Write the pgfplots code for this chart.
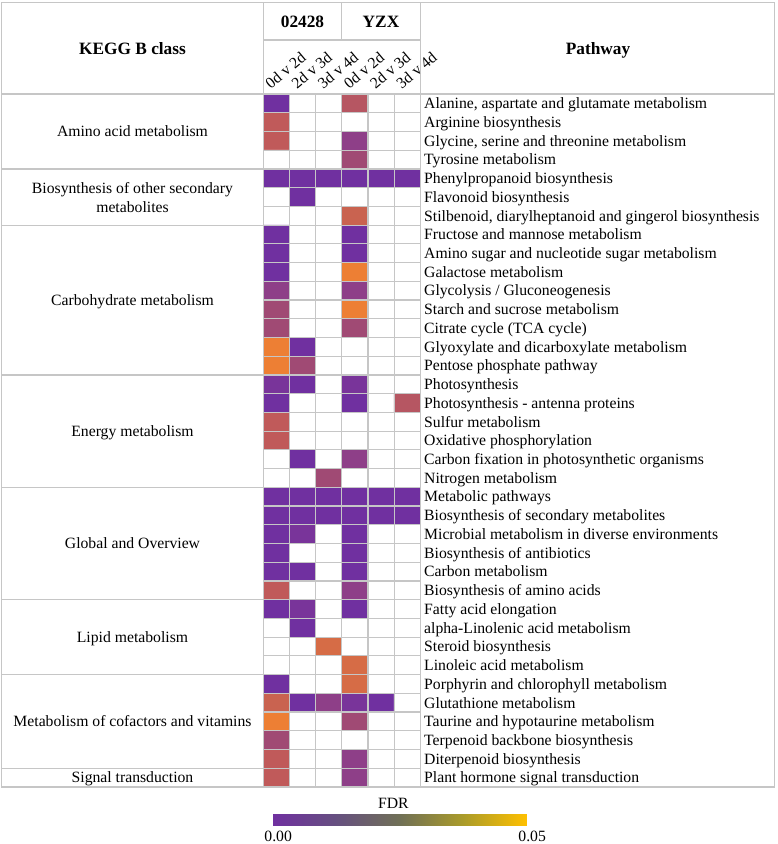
\documentclass[border=0pt]{standalone}
\usepackage{pgfplots}
\pgfplotsset{compat=1.18}
\usepackage{fontspec}
\setmainfont{Liberation Serif}
\definecolor{gridgray}{RGB}{198,198,198}
\newcommand{\fs}{\fontsize{15.7}{18.8}\selectfont}
\newcommand{\fb}{\fontsize{17.3}{20.5}\selectfont\bfseries}
\begin{document}
\begin{tikzpicture}
\useasboundingbox (0,0) rectangle (778pt,844pt);
% ---------------- canvas: frame, header, KEGG classes ----------------
\begin{axis}[at={(0pt,0pt)}, anchor=south west, scale only axis,
  width=778pt, height=844pt, xmin=0, xmax=778, ymin=0, ymax=844,
  y dir=reverse, hide axis, clip=false]
\draw[gridgray, line width=1.2pt] (axis cs:1.7,2.5) rectangle (axis cs:774.5,787);
\draw[gridgray, line width=1.2pt] (axis cs:263.3,2.5) -- (axis cs:263.3,787);
\draw[gridgray, line width=1.2pt] (axis cs:420.3,2.5) -- (axis cs:420.3,787);
\draw[gridgray, line width=1.2pt] (axis cs:341.8,2.5) -- (axis cs:341.8,40);
\draw[gridgray, line width=1.2pt] (axis cs:263.3,40) -- (axis cs:420.3,40);
\draw[gridgray, line width=1.2pt] (axis cs:1.7,94) -- (axis cs:774.5,94);
\draw[gridgray, line width=1.2pt]
  (axis cs:1.7,168.92) -- (axis cs:263.3,168.92)
  (axis cs:1.7,225.11) -- (axis cs:263.3,225.11)
  (axis cs:1.7,374.95) -- (axis cs:263.3,374.95)
  (axis cs:1.7,487.32) -- (axis cs:263.3,487.32)
  (axis cs:1.7,599.70) -- (axis cs:263.3,599.70)
  (axis cs:1.7,674.62) -- (axis cs:263.3,674.62)
  (axis cs:1.7,768.27) -- (axis cs:263.3,768.27);
% header texts
\node[font=\fb, anchor=base, yshift=-5.8pt] at (axis cs:132.5,48.3) {KEGG B class};
\node[font=\fb, anchor=base, yshift=-5.8pt] at (axis cs:598,48.3) {Pathway};
\node[font=\fb, anchor=base, yshift=-5.8pt] at (axis cs:302.5,21.5) {02428};
\node[font=\fb, anchor=base, yshift=-5.8pt] at (axis cs:381,21.5) {YZX};
% KEGG B classes
\node[font=\fs, anchor=base, yshift=-5.3pt] at (axis cs:132.5,131.46) {Amino acid metabolism};
\node[font=\fs, anchor=base, yshift=-5.3pt] at (axis cs:132.5,188.3) {Biosynthesis of other secondary};
\node[font=\fs, anchor=base, yshift=-5.3pt] at (axis cs:132.5,206.7) {metabolites};
\node[font=\fs, anchor=base, yshift=-5.3pt] at (axis cs:132.5,300.03) {Carbohydrate metabolism};
\node[font=\fs, anchor=base, yshift=-5.3pt] at (axis cs:132.5,431.14) {Energy metabolism};
\node[font=\fs, anchor=base, yshift=-5.3pt] at (axis cs:132.5,543.51) {Global and Overview};
\node[font=\fs, anchor=base, yshift=-5.3pt] at (axis cs:132.5,637.16) {Lipid metabolism};
\node[font=\fs, anchor=base, yshift=-5.3pt] at (axis cs:132.5,721.45) {Metabolism of cofactors and vitamins};
\node[font=\fs, anchor=base, yshift=-5.3pt] at (axis cs:132.5,777.64) {Signal transduction};
% colorbar title
\node[font=\fs, anchor=base, yshift=-5.3pt] at (axis cs:393.3,803) {FDR};
\end{axis}
% ---------------- heatmap ----------------
\begin{axis}[at={(263.3pt,57pt)}, anchor=south west, scale only axis,
  width=157pt, height=693pt,
  xmin=0.5, xmax=6.5, ymin=0.5, ymax=37.5, y dir=reverse,
  axis on top, axis line style={draw=gridgray, line width=1.2pt},
  xtick={1,...,6}, xticklabel pos=right,
  xticklabels={0d v 2d,2d v 3d,3d v 4d,0d v 2d,2d v 3d,3d v 4d},
  xticklabel style={font=\fs, anchor=base west, inner sep=0pt, xshift=-5.6pt, yshift=4.5pt, rotate=40},
  ytick={1,...,37}, yticklabel pos=right,
  yticklabels={{Alanine, aspartate and glutamate metabolism},{Arginine biosynthesis},
    {Glycine, serine and threonine metabolism},{Tyrosine metabolism},
    {Phenylpropanoid biosynthesis},{Flavonoid biosynthesis},
    {Stilbenoid, diarylheptanoid and gingerol biosynthesis},
    {Fructose and mannose metabolism},{Amino sugar and nucleotide sugar metabolism},
    {Galactose metabolism},{Glycolysis / Gluconeogenesis},{Starch and sucrose metabolism},
    {Citrate cycle (TCA cycle)},{Glyoxylate and dicarboxylate metabolism},
    {Pentose phosphate pathway},{Photosynthesis},{Photosynthesis - antenna proteins},
    {Sulfur metabolism},{Oxidative phosphorylation},
    {Carbon fixation in photosynthetic organisms},{Nitrogen metabolism},
    {Metabolic pathways},{Biosynthesis of secondary metabolites},
    {Microbial metabolism in diverse environments},{Biosynthesis of antibiotics},
    {Carbon metabolism},{Biosynthesis of amino acids},{Fatty acid elongation},
    {alpha-Linolenic acid metabolism},{Steroid biosynthesis},{Linoleic acid metabolism},
    {Porphyrin and chlorophyll metabolism},{Glutathione metabolism},
    {Taurine and hypotaurine metabolism},{Terpenoid backbone biosynthesis},
    {Diterpenoid biosynthesis},{Plant hormone signal transduction}},
  yticklabel style={font=\fs, anchor=base west, inner sep=0pt, xshift=3.7pt, yshift=-5.3pt},
  major tick length=0pt, minor tick length=0pt,
  minor xtick={1.5,2.5,3.5,4.5,5.5},
  minor ytick={1.5,2.5,...,36.5},
  xminorgrids=true, yminorgrids=true,
  minor grid style={draw=gridgray, line width=1.2pt},
  colormap={cells}{rgb255=(255,255,255) rgb255=(112,48,160) rgb255=(121,52,154)
    rgb255=(142,63,136) rgb255=(160,74,116) rgb255=(182,86,98) rgb255=(192,90,90)
    rgb255=(201,99,80) rgb255=(237,127,52) rgb255=(214,108,70)},
  colormap access=direct]
\addplot[matrix plot*, mesh/cols=6, point meta=explicit] table[x=c, y=r, meta=v] {
c r v
1 1 1
2 1 0
3 1 0
4 1 5
5 1 0
6 1 0
1 2 6
2 2 0
3 2 0
4 2 0
5 2 0
6 2 0
1 3 6
2 3 0
3 3 0
4 3 3
5 3 0
6 3 0
1 4 0
2 4 0
3 4 0
4 4 4
5 4 0
6 4 0
1 5 1
2 5 1
3 5 1
4 5 1
5 5 1
6 5 1
1 6 0
2 6 1
3 6 0
4 6 0
5 6 0
6 6 0
1 7 0
2 7 0
3 7 0
4 7 7
5 7 0
6 7 0
1 8 1
2 8 0
3 8 0
4 8 1
5 8 0
6 8 0
1 9 1
2 9 0
3 9 0
4 9 1
5 9 0
6 9 0
1 10 1
2 10 0
3 10 0
4 10 8
5 10 0
6 10 0
1 11 3
2 11 0
3 11 0
4 11 3
5 11 0
6 11 0
1 12 4
2 12 0
3 12 0
4 12 8
5 12 0
6 12 0
1 13 4
2 13 0
3 13 0
4 13 4
5 13 0
6 13 0
1 14 8
2 14 1
3 14 0
4 14 0
5 14 0
6 14 0
1 15 8
2 15 4
3 15 0
4 15 0
5 15 0
6 15 0
1 16 2
2 16 1
3 16 0
4 16 2
5 16 0
6 16 0
1 17 1
2 17 0
3 17 0
4 17 1
5 17 0
6 17 5
1 18 6
2 18 0
3 18 0
4 18 0
5 18 0
6 18 0
1 19 6
2 19 0
3 19 0
4 19 0
5 19 0
6 19 0
1 20 0
2 20 1
3 20 0
4 20 3
5 20 0
6 20 0
1 21 0
2 21 0
3 21 4
4 21 0
5 21 0
6 21 0
1 22 1
2 22 1
3 22 1
4 22 1
5 22 1
6 22 1
1 23 1
2 23 1
3 23 1
4 23 1
5 23 1
6 23 1
1 24 1
2 24 2
3 24 0
4 24 1
5 24 0
6 24 0
1 25 1
2 25 0
3 25 0
4 25 1
5 25 0
6 25 0
1 26 1
2 26 1
3 26 0
4 26 1
5 26 0
6 26 0
1 27 6
2 27 0
3 27 0
4 27 3
5 27 0
6 27 0
1 28 1
2 28 2
3 28 0
4 28 1
5 28 0
6 28 0
1 29 0
2 29 1
3 29 0
4 29 0
5 29 0
6 29 0
1 30 0
2 30 0
3 30 9
4 30 0
5 30 0
6 30 0
1 31 0
2 31 0
3 31 0
4 31 9
5 31 0
6 31 0
1 32 1
2 32 0
3 32 0
4 32 9
5 32 0
6 32 0
1 33 7
2 33 1
3 33 3
4 33 2
5 33 1
6 33 0
1 34 8
2 34 0
3 34 0
4 34 4
5 34 0
6 34 0
1 35 4
2 35 0
3 35 0
4 35 0
5 35 0
6 35 0
1 36 6
2 36 0
3 36 0
4 36 3
5 36 0
6 36 0
1 37 6
2 37 0
3 37 0
4 37 3
5 37 0
6 37 0
};
\end{axis}
% ---------------- colour bar ----------------
\begin{axis}[at={(272.7pt,18pt)}, anchor=south west, scale only axis,
  width=254pt, height=12pt, xmin=0, xmax=0.05, ymin=0, ymax=1,
  axis line style={draw=none}, ytick=\empty, scaled x ticks=false,
  xtick={0,0.05}, xticklabels={0.00,0.05}, major tick length=0pt,
  xticklabel style={font=\fs, anchor=north, inner sep=0pt, yshift=-5pt, xshift=5.5pt},
  colormap={fdr}{rgb255=(112,48,160) rgb255=(102,80,128) rgb255=(112,112,86)
    rgb255=(170,155,42) rgb255=(255,192,0)},
  point meta min=0, point meta max=0.05]
\addplot[surf, shader=interp, mesh/cols=5, point meta=x] table {
x y
0 0
0.0125 0
0.025 0
0.0375 0
0.05 0
0 1
0.0125 1
0.025 1
0.0375 1
0.05 1
};
\end{axis}
\end{tikzpicture}
\end{document}
